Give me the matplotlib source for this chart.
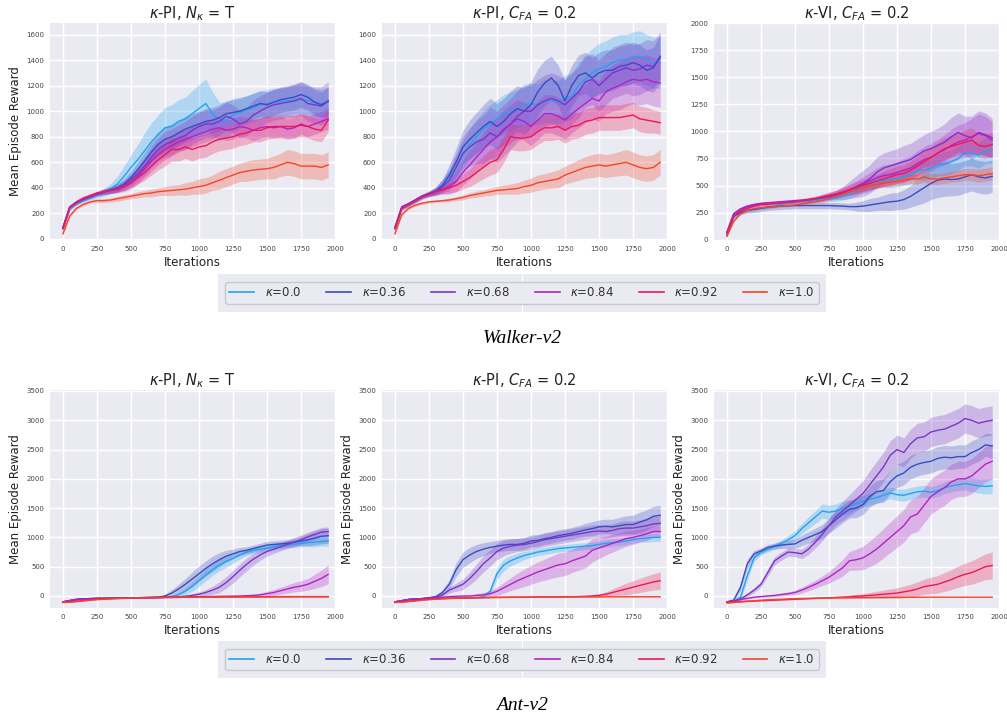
import matplotlib
matplotlib.use("Agg")
import matplotlib.pyplot as plt
from matplotlib.lines import Line2D

# ---------------- data ----------------
ITERS = list(range(0, 2000, 50))
KAPPAS = ["0.0", "0.36", "0.68", "0.84", "0.92", "1.0"]
COLORS = ["#1fa4f0", "#3a4bc4", "#7b35c9", "#b123c6", "#f01656", "#f5442a"]

# Walker-v2, kappa-PI, N_kappa = T
WALKER_PI_T_MEAN = [
    [80,240,280,305,325, 345,365,395,430,490, 560,620,690,760,820, 870,880,920,940,980, 1020,1060,980,920,930, 970,990,1010,1030,1050, 1060,1070,1075,1080,1090, 1090,1085,1070,1060,1070],
    [90,250,285,310,330, 350,370,385,400,430, 480,540,610,680,740, 780,800,830,860,880, 900,920,930,950,980, 990,1000,1020,1040,1060, 1050,1070,1090,1100,1110, 1130,1110,1070,1050,1080],
    [90,250,285,310,330, 350,365,380,395,420, 460,510,570,640,700, 740,760,790,810,850, 880,900,900,920,960, 940,900,920,970,1000, 1030,1050,1060,1070,1080, 1100,1060,1050,1040,1080],
    [85,250,290,315,335, 355,370,380,390,410, 440,490,550,610,660, 700,730,760,780,800, 820,840,860,870,850, 860,880,870,850,870, 880,870,880,860,870, 900,880,900,920,940],
    [80,245,290,320,340, 360,370,380,390,410, 440,480,520,570,620, 660,700,700,720,700, 720,730,760,780,790, 800,820,830,850,850, 870,880,880,880,880, 890,880,860,850,930],
    [40,180,240,270,290, 300,300,305,315,325, 335,345,355,360,370, 375,380,385,390,400, 410,420,440,460,480, 500,520,530,540,545, 550,560,580,600,590, 570,570,570,560,580],
]
WALKER_PI_T_HW = [
    [20,20,20,20,20, 25,30,40,60,80, 100,120,140,150,150, 160,170,170,170,180, 190,190,170,150,140, 130,120,110,110,110, 110,110,110,110,110, 110,110,110,110,120],
    [15,15,15,15,15, 15,20,25,30,40, 50,60,70,80,90, 100,100,100,100,100, 100,100,100,100,100, 100,100,100,100,100, 100,100,100,100,100, 100,100,100,100,110],
    [15,15,15,15,15, 15,20,25,30,40, 50,60,70,80,90, 100,100,100,110,110, 110,110,110,110,110, 110,110,110,120,120, 120,120,120,120,130, 130,140,140,150,150],
    [15,15,15,15,15, 15,20,25,30,40, 50,60,70,80,80, 80,80,80,80,80, 80,80,80,80,80, 80,80,80,80,80, 80,80,80,80,80, 80,80,80,80,80],
    [15,15,15,15,15, 15,20,20,25,30, 40,50,60,70,80, 90,90,90,90,90, 90,90,90,90,90, 90,90,90,90,90, 90,90,90,90,90, 90,90,90,90,90],
    [10,10,10,10,10, 15,15,15,20,20, 20,25,25,30,30, 35,40,40,50,50, 60,60,60,70,70, 70,70,80,80,80, 80,90,90,100,100, 100,100,100,100,100],
]

# Walker-v2, kappa-PI, C_FA = 0.2
WALKER_PI_CFA_MEAN = [
    [80,240,270,300,330, 350,375,420,480,560, 660,740,800,860,900, 940,980,1000,1020,1050, 1060,1050,1080,1080,1070, 1100,1120,1200,1250,1300, 1330,1350,1380,1400,1400, 1420,1430,1400,1380,1380],
    [90,250,275,305,335, 355,375,420,500,600, 720,780,830,880,920, 880,920,980,1020,1000, 1050,1150,1220,1260,1200, 1080,1200,1280,1300,1260, 1300,1320,1320,1350,1360, 1380,1360,1320,1340,1430],
    [90,250,275,305,335, 355,375,410,460,560, 670,720,760,780,830, 800,850,900,960,1000, 1000,1050,1080,1100,1080, 1050,1100,1150,1230,1250, 1200,1250,1300,1320,1340, 1320,1330,1360,1350,1420],
    [85,245,270,300,330, 350,370,390,410,450, 520,580,640,700,760, 800,860,900,940,920, 880,930,980,980,960, 930,980,1020,1060,1100, 1080,1150,1180,1200,1230, 1250,1240,1250,1230,1220],
    [80,240,270,300,330, 350,370,385,400,420, 450,480,520,560,600, 620,700,800,790,790, 800,840,870,870,880, 850,880,890,920,930, 950,950,950,950,960, 970,940,930,920,910],
    [40,190,240,265,280, 290,295,300,305,315, 325,340,350,360,370, 380,385,390,395,410, 420,440,450,460,470, 500,520,540,560,570, 580,570,580,590,600, 580,560,550,560,600],
]
WALKER_PI_CFA_HW = [
    [20,20,20,20,20, 20,30,50,70,90, 110,120,130,140,150, 150,150,150,150,160, 160,160,170,170,170, 180,180,180,190,190, 200,200,200,200,200, 200,200,200,200,200],
    [15,15,15,15,15, 20,30,50,80,110, 130,150,160,170,180, 180,180,180,180,180, 180,180,180,170,160, 160,160,160,160,160, 160,160,160,160,160, 160,160,160,160,170],
    [15,15,15,15,15, 20,30,50,80,110, 130,150,170,190,200, 200,200,200,200,200, 200,200,200,200,200, 200,200,200,200,200, 200,200,200,200,200, 200,200,200,200,200],
    [15,15,15,15,15, 20,30,40,60,80, 100,110,120,130,140, 150,150,150,150,150, 150,150,150,150,150, 150,150,150,150,160, 160,170,180,190,190, 190,190,190,190,190],
    [15,15,15,15,15, 15,20,30,40,50, 60,70,80,90,100, 100,100,100,100,100, 100,100,100,100,100, 100,100,100,100,100, 100,100,100,100,100, 100,100,100,90,90],
    [10,10,10,10,10, 10,10,10,15,15, 20,20,25,25,30, 30,35,40,45,50, 55,60,60,65,70, 70,75,80,85,90, 90,90,90,95,100, 100,100,100,100,100],
]

# Walker-v2, kappa-VI, C_FA = 0.2
WALKER_VI_MEAN = [
    [40,210,255,270,280, 290,300,310,325,340, 350,355,360,365,370, 375,385,400,420,450, 480,500,530,550,550, 560,580,600,640,640, 660,690,700,720,750, 800,800,780,820,830],
    [60,220,250,270,280, 290,300,305,310,312, 315,315,315,315,315, 315,312,310,305,305, 310,320,330,340,350, 355,370,400,440,480, 520,550,560,555,560, 580,600,580,570,585],
    [70,240,280,305,320, 330,335,340,345,350, 355,360,365,375,385, 395,410,430,460,490, 520,560,620,660,680, 700,720,740,780,820, 840,870,900,950,990, 960,940,990,970,940],
    [70,240,285,310,325, 335,340,345,350,355, 360,365,370,380,390, 405,420,440,460,480, 510,540,570,590,600, 620,640,660,700,740, 760,800,830,870,900, 920,950,980,960,920],
    [50,220,265,290,310, 325,330,335,340,345, 350,360,370,380,395, 410,420,440,460,480, 500,520,540,560,580, 600,610,640,680,720, 760,800,840,860,880, 900,920,870,860,880],
    [30,170,240,270,285, 295,300,305,310,315, 320,330,340,350,360, 380,400,420,440,460, 480,500,510,520,530, 540,550,560,560,580, 560,560,570,580,590, 600,600,590,600,610],
]
WALKER_VI_HW = [
    [10,15,15,15,15, 15,15,15,15,15, 15,15,20,20,20, 25,30,35,40,45, 50,55,60,65,70, 75,80,85,90,95, 100,100,110,110,110, 120,120,120,120,120],
    [10,20,20,25,30, 30,30,30,30,30, 30,30,30,30,30, 30,30,30,30,40, 50,60,60,70,80, 80,90,100,120,140, 150,160,160,150,150, 150,150,150,150,150],
    [10,15,15,15,15, 15,15,15,15,15, 15,15,20,20,25, 30,40,60,80,100, 120,130,140,140,140, 140,150,150,150,150, 160,160,170,180,180, 180,200,200,200,180],
    [10,15,15,15,15, 15,15,15,15,15, 15,15,20,20,25, 30,35,40,50,60, 70,80,90,100,100, 100,110,110,120,120, 130,130,140,150,160, 160,170,180,180,170],
    [10,15,15,15,15, 15,15,15,15,15, 15,15,20,20,25, 30,35,40,45,50, 55,60,65,70,75, 80,80,85,90,95, 100,100,100,100,100, 110,110,110,110,110],
    [10,10,10,10,10, 10,10,10,10,10, 10,15,15,15,20, 20,20,25,25,30, 30,30,35,35,40, 40,40,45,45,50, 50,50,50,50,55, 55,55,60,60,60],
]

# Ant-v2, kappa-PI, N_kappa = T
ANT_PI_T_MEAN = [
    [-100,-80,-60,-50,-45, -42,-40,-38,-36,-34, -32,-30,-28,-26,-24, -20,-10,20,80,160, 260,360,450,530,590, 640,700,750,780,800, 820,840,860,880,890, 900,910,920,930,940],
    [-100,-75,-55,-48,-44, -40,-38,-36,-34,-32, -30,-28,-26,-24,-20, 0,50,120,200,290, 380,470,550,620,680, 720,760,780,810,840, 870,880,890,900,920, 940,960,990,1020,1030],
    [-100,-80,-60,-50,-45, -42,-40,-38,-36,-34, -32,-30,-28,-26,-24, -22,-20,-15,-5,10, 30,60,100,150,230, 330,440,540,630,700, 760,800,840,880,920, 960,1010,1050,1090,1100],
    [-100,-80,-60,-50,-45, -42,-40,-38,-36,-34, -32,-30,-28,-26,-24, -22,-20,-18,-16,-14, -12,-10,-8,-6,-4, -2,0,5,10,20, 40,60,90,120,150, 170,200,250,300,370],
    [-110,-100,-90,-75,-65, -55,-48,-42,-38,-35, -32,-30,-28,-26,-24, -22,-21,-20,-19,-18, -17,-16,-15,-15,-14, -14,-13,-13,-12,-12, -12,-11,-11,-10,-10, -10,-10,-10,-10,-10],
    [-110,-105,-95,-85,-72, -62,-54,-48,-43,-39, -36,-33,-31,-29,-27, -25,-24,-23,-22,-21, -20,-19,-18,-18,-17, -17,-16,-16,-15,-15, -15,-14,-14,-14,-13, -13,-13,-13,-13,-13],
]
ANT_PI_T_HW = [
    [10,10,10,10,10, 10,10,10,10,10, 10,10,10,10,10, 10,20,40,60,80, 100,100,100,100,100, 80,70,60,60,60, 60,60,60,60,60, 60,70,80,80,90],
    [10,10,10,10,10, 10,10,10,10,10, 10,10,10,10,15, 30,60,80,100,120, 130,130,130,120,100, 80,70,60,60,60, 60,60,60,60,60, 80,100,120,130,130],
    [10,10,10,10,10, 10,10,10,10,10, 10,10,10,10,10, 10,10,15,20,30, 40,50,70,90,100, 110,110,110,100,90, 80,70,70,70,80, 80,80,80,80,80],
    [10,10,10,10,10, 10,10,10,10,10, 10,10,10,10,10, 10,10,10,10,10, 10,10,10,10,10, 10,10,15,20,30, 40,50,60,70,80, 90,100,120,140,160],
    [6,6,6,6,6, 6,5,5,5,5, 5,5,5,5,5, 5,5,5,5,5, 5,5,5,5,5, 5,5,5,5,5, 5,5,5,5,5, 5,5,5,5,5],
    [6,6,6,6,6, 6,5,5,5,5, 5,5,5,5,5, 5,5,5,5,5, 5,5,5,5,5, 5,5,5,5,5, 5,5,5,5,5, 5,5,5,5,5],
]

# Ant-v2, kappa-PI, C_FA = 0.2
ANT_PI_CFA_MEAN = [
    [-100,-80,-60,-50,-45, -42,-40,-38,-36,-34, -32,-30,-28,-10,80, 380,530,600,650,690, 720,750,770,790,810, 820,830,840,850,860, 880,900,910,920,940, 960,980,990,1000,1000],
    [-100,-80,-60,-50,-45, -30,-10,60,200,450, 620,700,760,800,830, 850,870,880,880,900, 940,950,980,1000,1030, 1050,1070,1100,1130,1150, 1180,1190,1180,1200,1220, 1220,1260,1300,1360,1380],
    [-100,-80,-60,-50,-45, -30,-20,20,100,150, 200,300,420,550,650, 760,820,850,870,880, 900,930,960,980,1000, 1020,1040,1060,1080,1100, 1110,1100,1120,1150,1160, 1160,1180,1200,1230,1240],
    [-100,-80,-60,-50,-45, -40,-30,-20,-10,-5, 0,0,10,20,40, 80,140,200,260,310, 360,410,450,490,530, 550,600,640,680,780, 820,860,900,940,980, 1000,1030,1060,1100,1100],
    [-110,-100,-90,-75,-65, -55,-48,-42,-38,-35, -32,-30,-28,-26,-24, -22,-21,-20,-19,-18, -17,-16,-15,-15,-14, -14,-13,-10,-5,0, 10,30,60,90,120, 150,180,210,240,260],
    [-110,-105,-95,-85,-72, -62,-54,-48,-43,-39, -36,-33,-31,-29,-27, -25,-24,-23,-22,-21, -20,-19,-18,-18,-17, -17,-16,-16,-15,-15, -15,-14,-14,-14,-13, -13,-13,-13,-13,-13],
]
ANT_PI_CFA_HW = [
    [10,10,10,10,10, 10,10,10,10,10, 10,10,10,20,50, 100,100,90,80,70, 60,60,60,60,60, 60,60,60,60,60, 60,60,60,60,60, 60,60,70,70,70],
    [10,10,10,10,10, 10,20,50,80,120, 130,130,120,110,100, 100,100,100,100,100, 100,100,100,100,100, 100,100,100,110,120, 120,120,130,140,150, 160,170,170,170,170],
    [10,10,10,10,10, 10,20,30,50,70, 90,110,130,140,140, 140,130,120,110,110, 110,110,110,110,110, 110,110,110,110,110, 110,110,110,120,120, 120,120,130,130,130],
    [10,10,10,10,10, 10,10,10,10,10, 10,20,30,40,50, 70,90,110,130,150, 160,170,180,190,200, 200,200,200,200,200, 180,160,150,140,130, 120,110,110,100,100],
    [5,5,5,5,5, 5,5,5,5,5, 5,5,5,5,5, 5,5,5,5,5, 5,5,5,5,5, 5,5,10,15,20, 30,40,60,80,100, 110,120,130,140,150],
    [6,6,6,6,6, 6,5,5,5,5, 5,5,5,5,5, 5,5,5,5,5, 5,5,5,5,5, 5,5,5,5,5, 5,5,5,5,5, 5,5,5,5,5],
]

# Ant-v2, kappa-VI, C_FA = 0.2
ANT_VI_MEAN = [
    [-100,-90,-20,350,650, 750,800,850,900,960, 1030,1150,1250,1350,1450, 1430,1450,1500,1530,1580, 1620,1650,1680,1720,1760, 1730,1720,1750,1780,1790, 1770,1800,1850,1880,1900, 1920,1900,1880,1870,1880],
    [-100,-70,150,550,720, 770,830,850,870,880, 890,950,1000,1050,1100, 1200,1300,1400,1480,1500, 1560,1700,1780,1800,1950, 2050,2100,2200,2250,2280, 2300,2350,2370,2360,2380, 2380,2450,2500,2580,2560],
    [-100,-90,-50,20,100, 200,400,600,680,750, 740,720,800,920,1050, 1200,1350,1450,1550,1650, 1750,1900,2050,2200,2400, 2500,2450,2600,2700,2720, 2800,2830,2850,2900,2950, 3030,3000,2950,2980,3000],
    [-100,-90,-60,-40,-20, -10,0,10,25,40, 60,100,150,200,260, 320,400,480,600,620, 650,720,800,900,1000, 1100,1200,1350,1400,1550, 1700,1780,1850,1950,2000, 2000,2050,2150,2250,2300],
    [-110,-100,-95,-90,-85, -80,-75,-70,-65,-60, -55,-50,-45,-40,-35, -30,-25,-20,-15,-5, 0,10,20,30,40, 50,70,90,120,160, 180,200,240,280,330, 370,400,450,500,520],
    [-120,-110,-100,-90,-80, -72,-65,-60,-55,-50, -46,-42,-40,-38,-36, -34,-32,-30,-29,-28, -27,-26,-25,-24,-23, -22,-22,-21,-21,-20, -20,-20,-20,-20,-20, -20,-20,-20,-20,-20],
]
ANT_VI_HW = [
    [20,20,60,80,60, 50,50,50,60,70, 80,90,100,110,120, 120,120,120,110,100, 100,100,100,100,100, 100,100,100,100,100, 100,100,100,100,100, 110,120,120,130,130],
    [20,20,60,80,60, 50,50,50,60,70, 80,90,100,110,120, 130,140,150,150,160, 170,180,190,200,200, 200,200,200,200,200, 200,200,200,200,200, 200,200,200,200,210],
    [20,20,20,30,40, 50,60,70,70,70, 70,80,90,100,110, 120,140,160,180,200, 220,240,250,250,250, 250,250,250,250,250, 250,250,250,250,250, 250,250,250,250,250],
    [10,10,10,10,10, 10,15,20,25,30, 40,50,60,70,80, 100,120,140,160,180, 200,220,240,250,260, 270,280,290,300,300, 300,300,300,300,300, 300,300,300,300,300],
    [10,10,10,10,10, 10,10,10,10,10, 10,10,10,10,10, 15,20,25,30,35, 40,50,60,70,80, 90,100,110,120,130, 140,150,160,170,180, 190,200,210,220,230],
    [6,6,6,6,6, 6,5,5,5,5, 5,5,5,5,5, 5,5,5,5,5, 5,5,5,5,5, 5,5,5,5,5, 5,5,5,5,5, 5,5,5,5,5],
]

TITLES = [r"$\kappa$-PI, $N_\kappa$ = T", r"$\kappa$-PI, $C_{FA}$ = 0.2", r"$\kappa$-VI, $C_{FA}$ = 0.2"]
XTICKS = [0, 250, 500, 750, 1000, 1250, 1500, 1750, 2000]
WALKER_YTICKS_PI = [0, 200, 400, 600, 800, 1000, 1200, 1400, 1600]
WALKER_YTICKS_VI = [0, 250, 500, 750, 1000, 1250, 1500, 1750, 2000]
ANT_YTICKS = [0, 500, 1000, 1500, 2000, 2500, 3000, 3500]

# ---------------- figure ----------------
W, H = 1007, 719
fig = plt.figure(figsize=(W / 100, H / 100), dpi=100, facecolor="white")
BG = "#eaeaf2"


def fx(px):
    return px / W


def fy(py):
    return 1 - py / H


lefts = [50, 382, 714]
width = 285
rows = [
    dict(top=23, bottom=240, means=[WALKER_PI_T_MEAN, WALKER_PI_CFA_MEAN, WALKER_VI_MEAN],
         hws=[WALKER_PI_T_HW, WALKER_PI_CFA_HW, WALKER_VI_HW],
         ylims=[(-8, 1690), (-8, 1690), (-3, 2000)],
         yticks=[WALKER_YTICKS_PI, WALKER_YTICKS_PI, WALKER_YTICKS_VI],
         ylabel=[True, False, False]),
    dict(top=390, bottom=608, means=[ANT_PI_T_MEAN, ANT_PI_CFA_MEAN, ANT_VI_MEAN],
         hws=[ANT_PI_T_HW, ANT_PI_CFA_HW, ANT_VI_HW],
         ylims=[(-205, 3517)] * 3,
         yticks=[ANT_YTICKS] * 3,
         ylabel=[True, True, True]),
]

for row in rows:
    for j in range(3):
        ax = fig.add_axes([fx(lefts[j]), fy(row["bottom"]), fx(width), (row["bottom"] - row["top"]) / H])
        ax.set_facecolor(BG)
        for s in ax.spines.values():
            s.set_visible(False)
        ax.grid(True, color="white", lw=1.0)
        ax.set_axisbelow(True)
        for k in range(6):
            m = row["means"][j][k]
            hw = row["hws"][j][k]
            lo = [a - b for a, b in zip(m, hw)]
            hi = [a + b for a, b in zip(m, hw)]
            ax.fill_between(ITERS, lo, hi, color=COLORS[k], alpha=0.28, lw=0)
            ax.plot(ITERS, m, color=COLORS[k], lw=1.0)
        ax.set_xlim(-95, 2000)
        ax.set_ylim(*row["ylims"][j])
        ax.set_xticks(XTICKS)
        ax.set_yticks(row["yticks"][j])
        ax.tick_params(length=0, labelsize=5, labelcolor="#444444", pad=4)
        ax.set_title(TITLES[j], fontsize=10.5, pad=3, color="#222222")
        ax.set_xlabel("Iterations", fontsize=8.6, labelpad=3, color="#222222")
        if row["ylabel"][j]:
            ax.set_ylabel("Mean Episode Reward", fontsize=8.5, labelpad=3, color="#222222")

# legends
handles = [Line2D([0], [0], color=c, lw=1.2) for c in COLORS]
labels = [r"$\kappa$=" + k for k in KAPPAS]
for top, bottom, cap, capy in [(274, 312, "Walker-v2", 338), (641, 678, "Ant-v2", 706)]:
    lax = fig.add_axes([fx(218), fy(bottom), fx(608), (bottom - top) / H])
    lax.set_facecolor(BG)
    for s in lax.spines.values():
        s.set_visible(False)
    lax.set_xticks([])
    lax.set_yticks([])
    lax.set_xlim(0, 1)
    lax.set_ylim(0, 1)
    lax.axvline(0.5, color="white", lw=0.8)
    leg = lax.legend(handles, labels, loc="center", ncol=6, fontsize=8.5, frameon=True,
                     handlelength=2.1, handletextpad=0.9, columnspacing=2.1,
                     borderpad=0.35, fancybox=True)
    leg.get_frame().set_facecolor(BG)
    leg.get_frame().set_edgecolor("#c8c8d0")
    leg.get_frame().set_alpha(1)
    for t in leg.get_texts():
        t.set_color("#333333")
    fig.text(fx(522), fy(capy), cap, family="Liberation Serif", style="italic",
             fontsize=14, ha="center", va="center")

fig.savefig("out.png", dpi=100, facecolor="white")
